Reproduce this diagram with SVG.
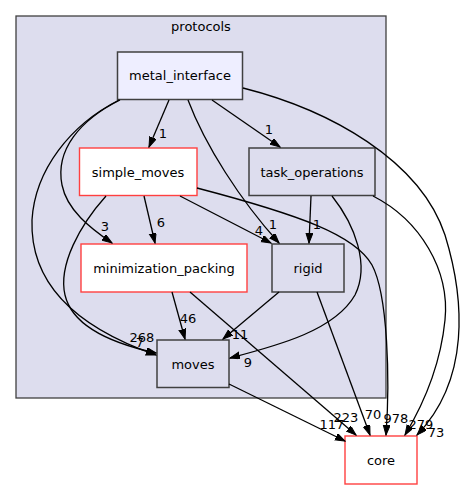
<svg xmlns="http://www.w3.org/2000/svg" width="468" height="489" viewBox="0 0 468 489">
<style>
text{font-family:"DejaVu Sans","Liberation Sans",sans-serif;font-size:13px;fill:#000;text-anchor:middle}
.cl{fill:#ddddee;stroke:#404040;stroke-width:1.3}
.g{fill:#ddddee;stroke:#404040;stroke-width:1.5}
.cur{fill:#eeeeff;stroke:#404040;stroke-width:1.5}
.r{fill:#fff;stroke:#ff4040;stroke-width:1.4}
.e path{fill:none;stroke:#000;stroke-width:1.3;marker-end:url(#ah)}
.lbl text{font-size:13px}
</style>
<defs>
<marker id="ah" markerUnits="userSpaceOnUse" markerWidth="11" markerHeight="8" refX="10" refY="3.5" orient="auto">
<path d="M0,0 L10,3.5 L0,7 z" fill="#000" stroke="#000" stroke-width="1"/>
</marker>
</defs>
<rect width="468" height="489" fill="#fff"/>
<g id="cluster_protocols">
<rect class="cl" x="16" y="16" width="370" height="382"/>
<text x="201" y="31">protocols</text>
</g>
<g id="node_metal_interface"><rect class="cur" x="117.5" y="52" width="125" height="47.5"/><text x="180" y="80">metal_interface</text></g>
<g id="node_simple_moves"><rect class="r" x="79.5" y="148" width="117.5" height="47.5"/><text x="138" y="176.5">simple_moves</text></g>
<g id="node_task_operations"><rect class="g" x="249" y="148" width="126" height="47.5"/><text x="312" y="176.5">task_operations</text></g>
<g id="node_minimization_packing"><rect class="r" x="81" y="244" width="166" height="48"/><text x="164" y="272.5">minimization_packing</text></g>
<g id="node_rigid"><rect class="g" x="272" y="244" width="72" height="48"/><text x="308" y="272.5">rigid</text></g>
<g id="node_moves"><rect class="g" x="157" y="340" width="72" height="47.5"/><text x="193" y="368.5">moves</text></g>
<g id="node_core"><rect class="r" x="345" y="436" width="72" height="48"/><text x="381" y="464.5">core</text></g>
<g id="connectors" class="e">
<path d="M169,100 L149,147"/>
<path d="M212,100 L280,147"/>
<path d="M188,100 C205,145 240,200 279,243"/>
<path d="M120,100 C80,120 55,150 62,185 C67,210 90,228 112,243"/>
<path d="M119,100 C70,125 35,170 32,220 C30,280 70,325 156,355"/>
<path d="M106,196 C80,225 58,265 65,295 C72,325 110,343 156,353"/>
<path d="M243,88 C330,110 420,160 445,235 C465,300 470,380 417,435"/>
<path d="M144,196 L155,243"/>
<path d="M180,196 L271,243"/>
<path d="M197,188 C300,215 355,235 372,265 C388,295 390,380 386,435"/>
<path d="M311,196 L309,243"/>
<path d="M332,196 C355,225 370,265 355,295 C335,330 280,345 230,358"/>
<path d="M373,196 C420,220 450,270 445,320 C440,370 420,410 405,435"/>
<path d="M172,292 L185,339"/>
<path d="M190,292 L356,435"/>
<path d="M279,292 L223,339"/>
<path d="M317,292 L370,435"/>
<path d="M229,384 L345,441"/>
</g>
<g id="edge_labels" class="lbl">
<text x="163" y="138">1</text>
<text x="269" y="134">1</text>
<text x="273" y="229">1</text>
<text x="105" y="231">3</text>
<text x="161" y="227">6</text>
<text x="259" y="235">4</text>
<text x="317" y="229">1</text>
<text x="188" y="323">46</text>
<text x="240" y="339">11</text>
<text x="142" y="342">268</text>
<text x="140" y="347">7</text>
<text x="248" y="367">9</text>
<text x="346" y="422">223</text>
<text x="332" y="429">117</text>
<text x="373" y="419">70</text>
<text x="396" y="423">978</text>
<text x="421" y="429">279</text>
<text x="436" y="437">73</text>
</g>
</svg>
